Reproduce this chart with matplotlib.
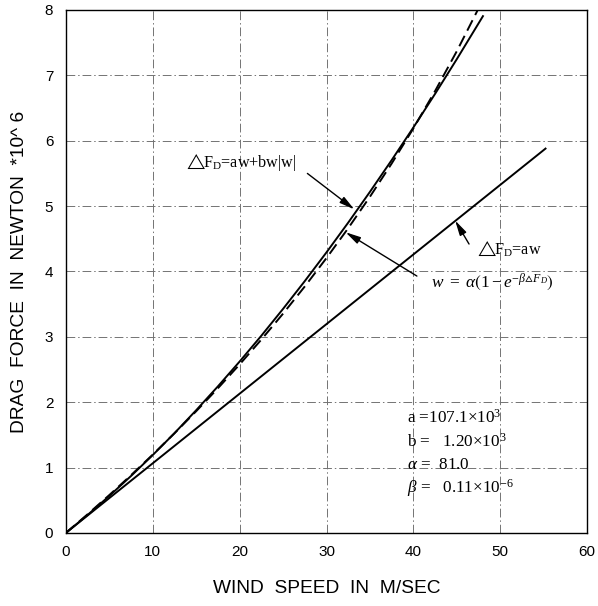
import matplotlib
matplotlib.use("Agg")
import matplotlib.pyplot as plt

# ---- data ----
wind_lin = [0, 55.2]
force_lin = [0, 5.88]

wind_quad = [0, 2.5, 5, 7.5, 10, 12.5, 15, 17.5, 20, 22.5, 25, 27.5, 30,
             32.5, 35, 37.5, 40, 42.5, 45, 48]
force_quad = [0, 0.275, 0.566, 0.871, 1.191, 1.526, 1.877, 2.242, 2.622,
              3.017, 3.428, 3.853, 4.293, 4.748, 5.219, 5.704, 6.204,
              6.719, 7.250, 7.906]

wind_exp = [0, 2.5, 5, 7.5, 10, 12.5, 15, 17.5, 20, 22.5, 25, 27.5, 30,
            32.5, 35, 37.5, 40, 42.5, 45, 47.4]
force_exp = [0, 0.285, 0.579, 0.883, 1.198, 1.524, 1.862, 2.213, 2.578,
             2.958, 3.355, 3.771, 4.206, 4.663, 5.144, 5.652, 6.190,
             6.762, 7.372, 8.0]

x_ticks = [0, 10, 20, 30, 40, 50, 60]
y_ticks = [0, 1, 2, 3, 4, 5, 6, 7, 8]

plt.rcParams['mathtext.fontset'] = 'custom'
plt.rcParams['mathtext.rm'] = 'Liberation Serif'
plt.rcParams['mathtext.it'] = 'Liberation Serif:italic'
plt.rcParams['mathtext.bf'] = 'Liberation Serif:bold'
plt.rcParams['mathtext.fallback'] = 'stix'

fig = plt.figure(figsize=(5.98, 6.06), dpi=100)
ax = fig.add_axes([0.110, 0.1205, 0.872, 0.863])

ax.plot(wind_lin, force_lin, color='k', lw=1.4)
ax.plot(wind_quad, force_quad, color='k', lw=1.4)
ax.plot(wind_exp, force_exp, color='k', lw=1.4, linestyle=(0, (6, 3)))

ax.set_xlim(0, 60)
ax.set_ylim(0, 8)
ax.set_xticks(x_ticks)
ax.set_yticks(y_ticks)
ax.tick_params(length=0, pad=9, labelsize=11)
for lab in ax.get_xticklabels() + ax.get_yticklabels():
    lab.set_family('Liberation Sans')
ax.grid(True, color='0.45', lw=0.7, linestyle=(0, (9, 3, 1.5, 3)))
ax.set_axisbelow(True)
for s in ax.spines.values():
    s.set_linewidth(1.0)

ax.set_xlabel('WIND  SPEED  IN  M/SEC', fontsize=13.8, family='Liberation Sans')
ax.set_ylabel('DRAG  FORCE  IN  NEWTON  *10^ 6', fontsize=13.8, family='Liberation Sans')
ax.xaxis.set_label_coords(0.5, -0.107)
ax.yaxis.set_label_coords(-0.088, 0.5)
ax.xaxis.label.set_va('center')
ax.yaxis.label.set_va('center')

arrow = dict(arrowstyle='-|>,head_length=0.9,head_width=0.22', lw=1.0,
             color='k', shrinkA=0, shrinkB=0)

ax.text(13.6, 5.67, r'$\triangle\!\!$F$_\mathrm{D}$=aw+bw|w|', fontsize=11.6,
        family='Liberation Serif', va='center', ha='left')
ax.annotate('', xy=(33.2, 4.95), xytext=(27.8, 5.5), arrowprops=arrow)

ax.text(42.0, 3.83, r'$w\ =\ \alpha\left(1 - e^{-\beta\vartriangle F_D}\right)$',
        fontsize=12.4, family='Liberation Serif', va='center', ha='left')
ax.annotate('', xy=(32.2, 4.6), xytext=(40.4, 3.93), arrowprops=arrow)

ax.text(47.1, 4.35, r'$\triangle\!\!$F$_\mathrm{D}$=aw', fontsize=11.6,
        family='Liberation Serif', va='center', ha='left')
ax.annotate('', xy=(44.8, 4.78), xytext=(46.4, 4.42), arrowprops=arrow)

params = [r'a =107.1$\times$10$^3$', r'b =   1.20$\times$10$^3$',
          r'$\alpha$ =  81.0', r'$\beta$ =   0.11$\times$10$^{-6}$']
for i, t in enumerate(params):
    ax.text(39.3, 1.76 - i * 0.36, t, fontsize=12.3,
            family='Liberation Serif', va='center', ha='left')

fig.savefig('out.png', dpi=100)
